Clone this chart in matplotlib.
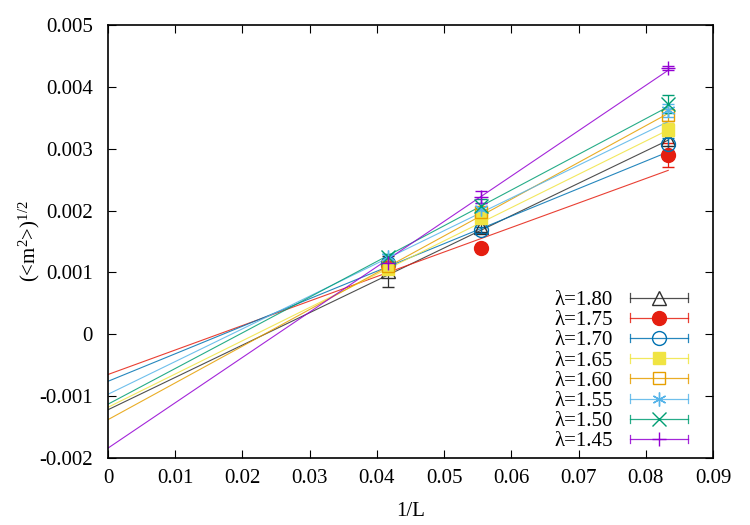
import matplotlib
matplotlib.use("Agg")
import matplotlib.pyplot as plt
import numpy as np
from matplotlib.lines import Line2D
from matplotlib.legend_handler import HandlerBase
from matplotlib.container import ErrorbarContainer

plt.rcParams['font.family'] = ['Liberation Serif', 'DejaVu Serif']
plt.rcParams['mathtext.fontset'] = 'custom'
plt.rcParams['mathtext.rm'] = 'Liberation Serif'
plt.rcParams['mathtext.it'] = 'Liberation Serif:italic'

# system sizes L = 24, 18, 12
sizes = [24, 18, 12]
lambdas = ['1.80', '1.75', '1.70', '1.65', '1.60', '1.55', '1.50', '1.45']

# <m^2>^(1/2) in units of 1e-3, one row per lambda
m_vals = [
    [1.02, 1.74, 3.15],
    [1.12, 1.40, 2.90],
    [1.15, 1.68, 3.07],
    [1.05, 1.88, 3.31],
    [1.10, 1.97, 3.55],
    [1.25, 2.02, 3.62],
    [1.25, 2.08, 3.72],
    [1.15, 2.22, 4.31],
]
m_errs = [
    [0.25, 0.08, 0.25],
    [0.05, 0.05, 0.20],
    [0.05, 0.05, 0.10],
    [0.05, 0.10, 0.10],
    [0.05, 0.05, 0.10],
    [0.05, 0.10, 0.10],
    [0.05, 0.10, 0.15],
    [0.05, 0.10, 0.03],
]
# linear fit a + b/L (units 1e-3)
fit_a = [-1.22, -0.65, -0.76, -1.18, -1.38, -0.97, -1.13, -1.84]
fit_b = [52.3, 39.6, 44.5, 53.8, 59.4, 52.9, 57.7, 73.3]

colors = ['#303030', '#e51e10', '#0072b2', '#f0e442', '#e69f00', '#56b4e9', '#009e73', '#9400d3']
markers = ['^', 'o', 'o', 's', 's', (6, 2, 0), 'x', '+']
filled = [False, True, False, True, False, False, False, False]
msizes = [10, 10, 10, 9, 9, 10, 10, 10]


class ErrHandler(HandlerBase):
    # gnuplot style key: horizontal bar with end caps, marker in middle
    def create_artists(self, legend, orig_handle, xdescent, ydescent,
                       width, height, fontsize, trans):
        dl = orig_handle[0]
        c = dl.get_markeredgecolor()
        x0 = -xdescent
        x1 = width - xdescent
        yc = (height - ydescent) / 2
        cap = height * 0.3
        arts = [
            Line2D([x0, x1], [yc, yc], color=c, lw=0.9, alpha=0.85),
            Line2D([x0, x0], [yc - cap, yc + cap], color=c, lw=0.9, alpha=0.85),
            Line2D([x1, x1], [yc - cap, yc + cap], color=c, lw=0.9, alpha=0.85),
            Line2D([(x0 + x1) / 2], [yc], marker=dl.get_marker(), ls='none',
                   markersize=dl.get_markersize(), markeredgecolor=c,
                   markerfacecolor=dl.get_markerfacecolor(), markeredgewidth=1.0),
        ]
        for a in arts:
            a.set_transform(trans)
        return arts


fig = plt.figure(figsize=(7.5, 5.25), dpi=100)
ax = fig.add_axes([0.144, 0.1276, 0.8067, 0.8248])

invL = 1.0 / np.array(sizes)
xfit = np.array([0.0, invL.max()])
handles = []
for i, lam in enumerate(lambdas):
    y = np.array(m_vals[i]) * 1e-3
    e = np.array(m_errs[i]) * 1e-3
    ax.plot(xfit, (fit_a[i] + fit_b[i] * xfit) * 1e-3, color=colors[i], lw=0.8, alpha=0.85)
    h = ax.errorbar(invL, y, yerr=e, ls='none', marker=markers[i], color=colors[i],
                    ms=msizes[i], mfc=colors[i] if filled[i] else 'none',
                    mec=colors[i], mew=1.0, elinewidth=0.9, capsize=4, capthick=0.9,
                    label='\u03bb=' + lam)
    handles.append(h)

ax.set_xlim(0, 0.09)
ax.set_ylim(-0.002, 0.005)
ax.set_xticks(np.arange(0, 0.0901, 0.01))
ax.set_xticklabels(['0', '0.01', '0.02', '0.03', '0.04', '0.05', '0.06', '0.07', '0.08', '0.09'])
ax.set_yticks(np.arange(-0.002, 0.00501, 0.001))
ax.set_yticklabels(['-0.002', '-0.001', '0', '0.001', '0.002', '0.003', '0.004', '0.005'])
ax.tick_params(direction='in', length=6, width=0.8, labelsize=15, top=True, right=True)
ax.tick_params(axis='y', pad=11)
ax.tick_params(axis='x', pad=8)
for s in ax.spines.values():
    s.set_linewidth(1.2)

ax.set_xlabel('1/L', fontsize=15, labelpad=10)
ax.set_ylabel(r'(<m$^{2}$>)$^{1/2}$', fontsize=15, labelpad=-2)

ax.legend(handles=handles, loc='lower right', bbox_to_anchor=(0.99, -0.028),
          frameon=False, markerfirst=False, fontsize=15, handlelength=2.8,
          handletextpad=0.8, labelspacing=0.03,
          handler_map={ErrorbarContainer: ErrHandler()})

fig.savefig('out.png', dpi=100)
